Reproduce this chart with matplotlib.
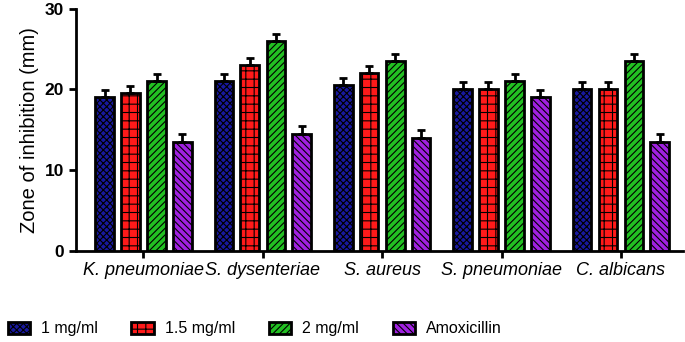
import matplotlib.pyplot as plt
import numpy as np

organisms = ['K. pneumoniae', 'S. dysenteriae', 'S. aureus', 'S. pneumoniae', 'C. albicans']
labels = ['1 mg/ml', '1.5 mg/ml', '2 mg/ml', 'Amoxicillin']
dose_1 = [19.0, 21.0, 20.5, 20.0, 20.0]
dose_15 = [19.5, 23.0, 22.0, 20.0, 20.0]
dose_2 = [21.0, 26.0, 23.5, 21.0, 23.5]
amox = [13.5, 14.5, 14.0, 19.0, 13.5]
err = [0.9, 0.9, 0.9, 0.9, 0.9]

colors = ['#1818a0', '#ff1a1a', '#22c022', '#a020e0']
hatches = ['xxxxx', '++', '/////', '\\\\\\\\\\']

plt.rcParams['font.family'] = ['Liberation Sans', 'DejaVu Sans']
plt.rcParams['hatch.linewidth'] = 0.8

fig = plt.figure(figsize=(6.85, 3.42), dpi=100)
ax = fig.add_axes([0.111, 0.267, 0.886, 0.708])

x = np.arange(len(organisms))
offsets = [-0.325, -0.11, 0.11, 0.325]
for vals, off, c, h, lab in zip([dose_1, dose_15, dose_2, amox], offsets, colors, hatches, labels):
    ax.bar(x + off, vals, width=0.155, color=c, edgecolor='black', linewidth=2,
           hatch=h, label=lab, zorder=2)
    ax.errorbar(x + off, vals, yerr=[[0] * len(vals), err], fmt='none', ecolor='black',
                elinewidth=2, capsize=3, capthick=2, zorder=3)

ax.set_xlim(-0.565, 4.52)
ax.set_ylim(0, 30)
ax.set_yticks([0, 10, 20, 30])
ax.set_xticks(x)
ax.set_xticklabels(organisms, fontstyle='italic', fontsize=13)
ax.tick_params(axis='y', labelsize=12.5, width=2, length=5)
ax.tick_params(axis='x', width=2, length=5)
for t in ax.get_yticklabels():
    t.set_fontweight('bold')
ax.set_ylabel('Zone of inhibition (mm)', fontsize=14.5, labelpad=4)
ax.spines['top'].set_visible(False)
ax.spines['right'].set_visible(False)
ax.spines['left'].set_linewidth(2)
ax.spines['bottom'].set_linewidth(2)

fig.legend(loc='lower left', bbox_to_anchor=(-0.01, -0.025), ncol=4, frameon=False,
           fontsize=11.5, handlelength=1.4, handleheight=0.8, handletextpad=0.7,
           columnspacing=2.1)

fig.savefig('out.png', dpi=100)
